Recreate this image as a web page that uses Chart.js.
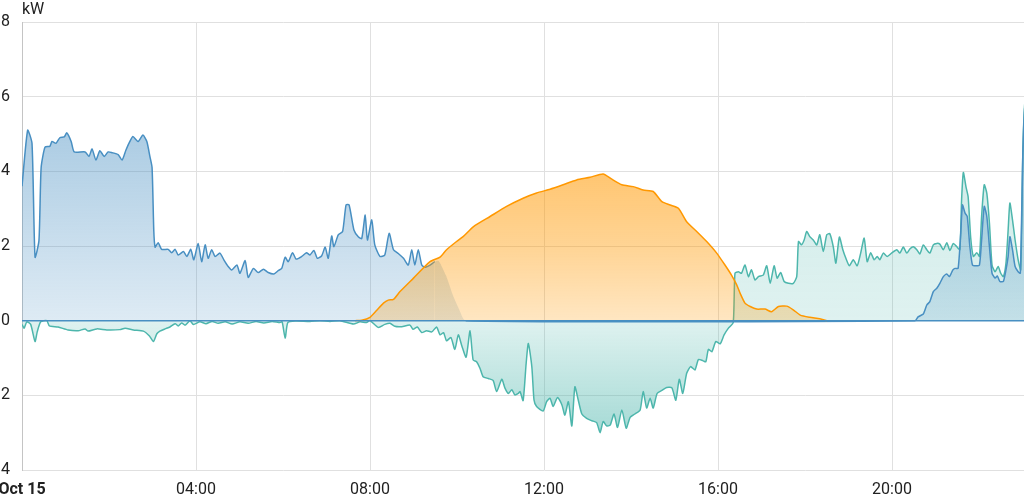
<!DOCTYPE html>
<html><head><meta charset="utf-8">
<script src="https://cdn.jsdelivr.net/npm/chart.js@4"></script>
<style>
html,body{margin:0;padding:0;background:#fff;overflow:hidden;width:1024px;height:499px}
#wrap{position:absolute;left:0;top:0;width:1070px;height:499px}
</style></head><body>
<div id="wrap"><canvas id="c"></canvas></div>
<script>
const tickLabels = ['Oct 15','04:00','08:00','12:00','16:00','20:00'];
const yUnit = 'kW';

// grid import (blue) [hour, kW]
const gridSeries = [[0,3.6],[0.13,5.1],[0.23,4.75],[0.30,1.7],[0.39,2.15],[0.44,4.1],[0.53,4.65],[0.64,4.67],[0.69,4.8],[0.78,4.75],[0.87,4.9],[0.97,4.92],[1.03,5.03],[1.13,4.8],[1.20,4.52],[1.45,4.52],[1.54,4.4],[1.61,4.6],[1.70,4.3],[1.79,4.55],[1.89,4.4],[1.98,4.52],[2.07,4.5],[2.21,4.45],[2.30,4.3],[2.39,4.57],[2.48,4.8],[2.55,4.93],[2.67,4.8],[2.78,4.97],[2.87,4.8],[2.94,4.4],[2.99,4.1],[3.03,2.4],[3.06,1.97],[3.13,2.09],[3.21,1.91],[3.36,1.91],[3.44,1.82],[3.52,1.91],[3.59,1.76],[3.71,1.85],[3.79,1.72],[3.88,1.91],[3.95,1.63],[4.05,2.07],[4.13,1.58],[4.21,2.03],[4.28,1.67],[4.36,1.9],[4.44,1.72],[4.55,1.81],[4.64,1.63],[4.74,1.45],[4.82,1.36],[4.94,1.49],[5.01,1.27],[5.13,1.61],[5.20,1.16],[5.32,1.4],[5.43,1.29],[5.55,1.38],[5.66,1.29],[5.79,1.25],[5.89,1.34],[5.97,1.4],[6.05,1.7],[6.12,1.58],[6.22,1.82],[6.30,1.65],[6.43,1.72],[6.54,1.82],[6.62,1.76],[6.71,1.88],[6.79,1.67],[6.89,1.74],[6.97,1.97],[7.04,1.67],[7.12,2.27],[7.17,1.98],[7.27,2.3],[7.37,2.39],[7.45,3.1],[7.52,3.1],[7.63,2.43],[7.73,2.25],[7.81,2.2],[7.89,2.83],[7.94,2.16],[8.04,2.7],[8.11,2.03],[8.23,1.72],[8.34,1.76],[8.44,2.34],[8.54,1.9],[8.65,1.8],[8.77,1.67],[8.88,1.49],[8.96,1.9],[9.03,1.49],[9.11,1.9],[9.19,1.49],[9.26,1.43],[9.38,1.49],[9.49,1.58],[9.58,1.6],[9.75,1.2],[9.90,0.7],[10.05,0.3],[10.20,0],[20.53,0],[20.60,0.1],[20.72,0.18],[20.80,0.42],[20.87,0.51],[20.95,0.78],[21.03,0.87],[21.10,1.0],[21.18,1.18],[21.26,1.25],[21.32,1.18],[21.40,1.36],[21.45,1.4],[21.52,1.4],[21.58,2.34],[21.62,3.1],[21.68,2.88],[21.73,2.79],[21.79,1.98],[21.85,1.49],[21.93,1.47],[22.01,1.49],[22.06,2.16],[22.12,3.06],[22.18,2.79],[22.24,1.98],[22.30,1.27],[22.37,1.14],[22.42,1.2],[22.48,1.05],[22.56,1.05],[22.62,1.36],[22.67,1.72],[22.71,2.25],[22.77,1.9],[22.83,1.45],[22.90,1.31],[22.95,1.27],[23.01,4.58],[23.06,5.8],[23.15,5.6]];

// battery (teal) [hour, kW]
const batterySeries = [[0,-0.1],[0.05,-0.2],[0.11,-0.03],[0.20,-0.1],[0.30,-0.56],[0.35,-0.3],[0.43,-0.03],[0.57,0],[0.63,-0.14],[0.83,-0.17],[1.06,-0.25],[1.29,-0.27],[1.45,-0.22],[1.52,-0.28],[1.72,-0.22],[1.95,-0.25],[2.25,-0.24],[2.37,-0.2],[2.56,-0.25],[2.79,-0.28],[2.93,-0.41],[3.02,-0.56],[3.10,-0.35],[3.17,-0.28],[3.29,-0.22],[3.40,-0.17],[3.52,-0.08],[3.59,-0.14],[3.67,-0.06],[3.75,-0.12],[3.86,0],[3.94,-0.1],[4.09,-0.03],[4.23,-0.08],[4.37,-0.02],[4.51,-0.07],[4.67,-0.03],[4.83,-0.09],[5.01,-0.03],[5.20,-0.07],[5.38,-0.02],[5.56,-0.06],[5.75,-0.02],[5.93,-0.05],[5.98,-0.03],[6.05,-0.47],[6.11,-0.05],[6.28,-0.01],[6.62,-0.02],[6.85,0],[7.08,-0.02],[7.31,0],[7.62,-0.09],[7.77,-0.03],[7.92,-0.05],[8.0,0],[8.19,-0.18],[8.34,-0.1],[8.46,-0.07],[8.57,-0.15],[8.73,-0.16],[8.92,-0.12],[8.99,-0.23],[9.09,-0.17],[9.19,-0.32],[9.30,-0.27],[9.42,-0.3],[9.53,-0.17],[9.61,-0.38],[9.69,-0.32],[9.76,-0.54],[9.86,-0.45],[9.95,-0.77],[10.03,-0.38],[10.11,-0.67],[10.21,-0.98],[10.30,-0.27],[10.37,-1.05],[10.45,-1.1],[10.53,-1.28],[10.60,-1.5],[10.72,-1.55],[10.83,-1.6],[10.91,-1.9],[11.03,-1.57],[11.10,-1.8],[11.18,-1.95],[11.26,-1.85],[11.33,-1.99],[11.41,-1.95],[11.45,-1.9],[11.52,-2.14],[11.59,-1.14],[11.64,-0.61],[11.72,-1.23],[11.77,-2.12],[11.83,-2.3],[11.98,-2.42],[12.06,-2.17],[12.14,-2.08],[12.21,-2.3],[12.31,-2.06],[12.41,-2.25],[12.48,-2.53],[12.56,-2.17],[12.64,-2.82],[12.71,-1.77],[12.79,-2.14],[12.87,-2.5],[12.98,-2.62],[13.10,-2.68],[13.21,-2.73],[13.29,-3.0],[13.36,-2.7],[13.44,-2.82],[13.52,-2.8],[13.61,-2.5],[13.69,-2.86],[13.79,-2.39],[13.89,-2.88],[13.98,-2.59],[14.09,-2.5],[14.21,-2.39],[14.28,-1.9],[14.36,-2.34],[14.44,-2.08],[14.51,-2.34],[14.60,-1.95],[14.71,-1.87],[14.82,-1.79],[14.94,-1.8],[15.03,-2.13],[15.11,-1.57],[15.19,-1.95],[15.28,-1.41],[15.37,-1.23],[15.47,-1.32],[15.55,-1.04],[15.65,-1.07],[15.72,-1.1],[15.78,-0.77],[15.86,-0.83],[15.95,-0.56],[16.05,-0.62],[16.14,-0.38],[16.24,-0.2],[16.35,-0.05],[16.39,1.27],[16.47,1.31],[16.54,1.27],[16.62,1.49],[16.70,1.18],[16.77,1.36],[16.85,1.09],[16.93,1.18],[17.04,1.22],[17.12,1.47],[17.20,1.0],[17.29,1.47],[17.36,1.14],[17.44,1.29],[17.52,1.05],[17.62,1.0],[17.73,1.0],[17.81,1.18],[17.85,2.12],[17.92,2.03],[17.98,2.16],[18.04,2.39],[18.11,2.25],[18.19,2.16],[18.27,2.03],[18.34,2.3],[18.42,1.85],[18.50,2.3],[18.57,2.33],[18.65,1.98],[18.71,1.54],[18.79,2.24],[18.87,1.9],[18.94,1.67],[19.02,1.47],[19.11,1.63],[19.20,1.47],[19.28,1.81],[19.36,2.21],[19.43,1.58],[19.51,1.82],[19.59,1.63],[19.66,1.72],[19.72,1.63],[19.80,1.81],[19.89,1.72],[19.99,1.81],[20.11,1.9],[20.18,1.81],[20.26,1.97],[20.34,1.81],[20.41,1.92],[20.49,1.98],[20.57,1.9],[20.64,1.79],[20.72,2.03],[20.80,1.9],[20.87,1.81],[20.95,2.03],[21.03,2.07],[21.10,2.05],[21.18,1.9],[21.26,2.09],[21.33,1.88],[21.41,2.07],[21.49,1.98],[21.56,1.9],[21.60,3.24],[21.64,3.97],[21.70,3.59],[21.75,3.32],[21.81,2.21],[21.87,1.72],[21.95,1.82],[22.01,1.72],[22.06,2.79],[22.12,3.64],[22.18,3.41],[22.24,2.61],[22.30,1.49],[22.37,1.31],[22.44,1.45],[22.50,1.27],[22.56,1.18],[22.62,1.54],[22.67,2.43],[22.71,3.15],[22.77,2.7],[22.83,2.16],[22.90,1.63],[22.96,1.36],[23.01,4.6],[23.06,5.9],[23.15,5.7]];

// solar (orange) [hour, kW]
const solarSeries = [[7.66,0],[7.81,0.01],[8.0,0.09],[8.15,0.27],[8.31,0.47],[8.42,0.55],[8.54,0.57],[8.69,0.78],[9.0,1.14],[9.38,1.58],[9.61,1.7],[9.76,1.9],[9.99,2.12],[10.14,2.25],[10.38,2.52],[10.76,2.79],[11.14,3.06],[11.52,3.28],[11.83,3.42],[12.14,3.52],[12.44,3.64],[12.75,3.77],[13.06,3.84],[13.36,3.93],[13.56,3.79],[13.79,3.64],[14.05,3.59],[14.28,3.5],[14.51,3.46],[14.71,3.19],[14.90,3.1],[15.09,3.01],[15.28,2.65],[15.51,2.39],[15.74,2.12],[15.97,1.81],[16.16,1.49],[16.31,1.22],[16.43,0.96],[16.51,0.73],[16.62,0.47],[16.74,0.38],[16.89,0.31],[17.08,0.31],[17.23,0.24],[17.39,0.38],[17.58,0.39],[17.73,0.29],[17.89,0.15],[18.11,0.09],[18.34,0.05],[18.50,0]];

// grid export (blue, zero all day) [hour, kW]
const exportSeries = [[0,0],[24,0]];

const toPts = s => s.map(([x, y]) => ({x, y}));
const FONT = 'Roboto';

// solar value at an hour (for hiding the grid line where it runs under the solar area)
function solarAt(h) {
  for (let i = 1; i < solarSeries.length; i++) {
    const [x0, y0] = solarSeries[i - 1], [x1, y1] = solarSeries[i];
    if (h >= x0 && h <= x1) return y0 + (y1 - y0) * (h - x0) / (x1 - x0);
  }
  return 0;
}

function grad(ctx, rgb, stops) {
  const chart = ctx.chart;
  const y = chart.scales.y;
  if (!chart.chartArea || !y) return `rgba(${rgb},0.25)`;
  const top = y.getPixelForValue(8), bottom = y.getPixelForValue(-4);
  const g = chart.ctx.createLinearGradient(0, top, 0, bottom);
  stops.forEach(([v, a]) => g.addColorStop((y.getPixelForValue(v) - top) / (bottom - top), `rgba(${rgb},${a})`));
  return g;
}

const kwTitle = {
  id: 'kwTitle',
  afterDraw(chart) {
    const c = chart.ctx;
    c.save();
    c.font = `16px ${FONT}`;
    c.fillStyle = '#212121';
    c.textAlign = 'left';
    c.textBaseline = 'middle';
    c.fillText(yUnit, chart.chartArea.left, 10);
    c.restore();
  }
};

new Chart(document.getElementById('c'), {
  type: 'line',
  data: {
    datasets: [
      { label: 'Grid export', data: toPts(exportSeries), borderColor: '#488fc2', borderWidth: 1.5, fill: false },
      { label: 'Solar', data: toPts(solarSeries), borderColor: '#ff9800', borderWidth: 1.5, fill: 'origin',
        backgroundColor: c => grad(c, '255,152,0', [[8,0.62],[4,0.56],[2,0.42],[0,0.24],[-4,0.24]]) },
      { label: 'Grid', data: toPts(gridSeries), borderColor: '#488fc2', borderWidth: 1.5, fill: 'origin',
        backgroundColor: c => grad(c, '72,143,194', [[8,0.5],[5,0.45],[0,0.18],[-4,0.18]]),
        segment: {
          borderColor: s => {
            const top = Math.max(s.p0.parsed.y, s.p1.parsed.y);
            return (top > 0 && top < solarAt(s.p0.parsed.x)) ? 'rgba(72,143,194,0)' : undefined;
          }
        } },
      { label: 'Battery', data: toPts(batterySeries), borderColor: '#4db6ac', borderWidth: 1.5, fill: 'origin',
        backgroundColor: c => grad(c, '77,182,172', [[8,0.28],[4,0.25],[0,0.18],[-3,0.5],[-4,0.55]]) }
    ]
  },
  options: {
    responsive: true,
    maintainAspectRatio: false,
    animation: false,
    layout: { padding: { top: 22, right: 4, left: 0, bottom: 0 } },
    elements: { point: { radius: 0 }, line: { tension: 0.2 } },
    plugins: { legend: { display: false }, tooltip: { enabled: false } },
    scales: {
      x: {
        type: 'linear', min: 0, max: 24,
        ticks: {
          stepSize: 4, padding: 10, maxRotation: 0, autoSkip: false, color: '#212121',
          font: c => ({ family: FONT, size: 16, weight: (c.tick && c.tick.value === 0) ? 'bold' : 'normal' }),
          callback: v => (v % 4 === 0 && v < 24) ? tickLabels[v / 4] : null
        },
        grid: { color: '#e0e0e0', drawTicks: false },
        border: { display: false },
        afterFit: s => { s.paddingLeft = 0; s.paddingRight = 0; s.height = 29; }
      },
      y: {
        min: -4, max: 8,
        ticks: { stepSize: 2, padding: 12, color: '#212121', font: { family: FONT, size: 16 },
          callback: v => String(Math.abs(v)) },
        grid: { color: '#e0e0e0', drawTicks: false },
        border: { color: '#c4c4c4' },
        afterFit: s => { s.width = 22; }
      }
    }
  },
  plugins: [kwTitle]
});
</script>
</body></html>
